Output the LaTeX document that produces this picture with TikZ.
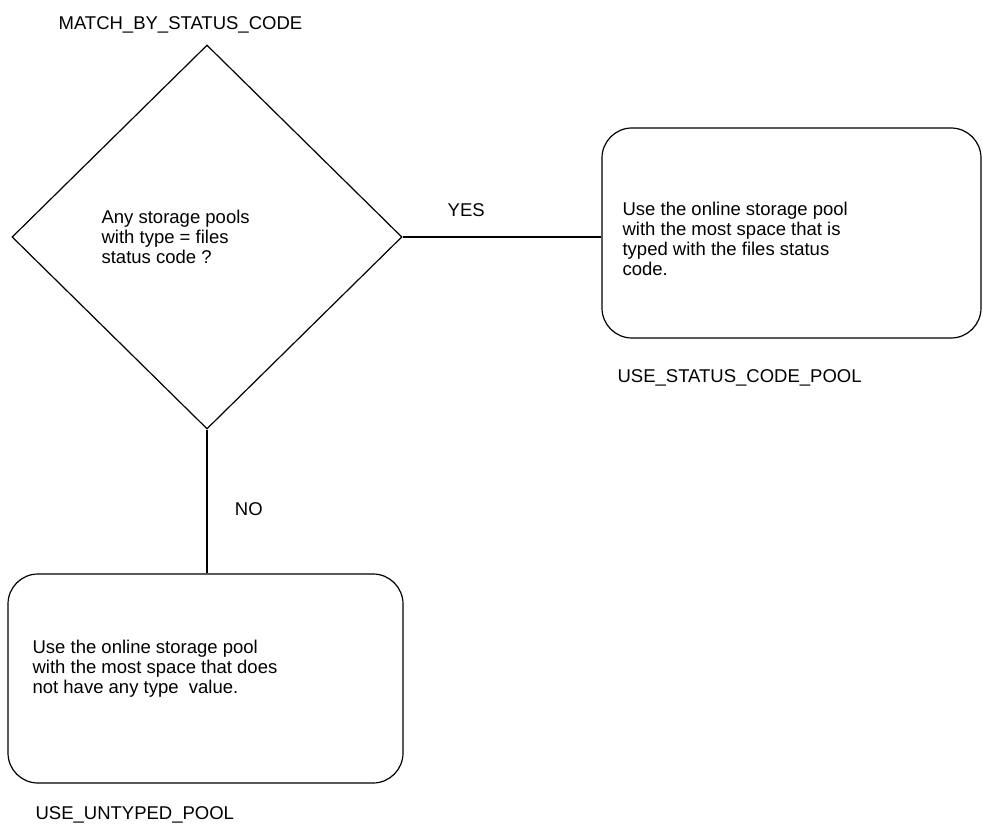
\documentclass[tikz,border=0pt]{standalone}
\usepackage{fontspec}
\setmainfont{Liberation Sans}
\usetikzlibrary{shapes.geometric}
\begin{document}
\begin{tikzpicture}[x=1pt,y=-1pt,line width=1.2pt,font=\fontsize{18.5}{20}\selectfont,
  decision/.style={diamond,draw,inner sep=0pt,minimum width=390pt,minimum height=384pt},
  poolbox/.style={rectangle,draw,rounded corners=30pt,inner sep=0pt},
  txt/.style={anchor=west,align=left,inner sep=0pt},
  tag/.style={anchor=west,inner sep=0pt}]
  \useasboundingbox (0,0) rectangle (983,829);
  \node[decision] (match) at (207,237) {};
  \node[poolbox,minimum width=379pt,minimum height=210pt] (statuspool) at (791.5,233) {};
  \node[poolbox,minimum width=395pt,minimum height=209pt] (untyped) at (205.5,678.5) {};
  % texts
  \node[txt] (matchtxt) at (101,237) {Any storage pools\\with type = files\\status code ?};
  \node[txt] (statustxt) at (622,239) {Use the online storage pool\\with the most space that is\\typed with the files status\\code.};
  \node[txt] (untypedtxt) at (32,669) {Use the online storage pool\\with the most space that does\\not have any type\ \ value.};
  \node[tag] (matchtag) at (58,25) {MATCH\_BY\_STATUS\_CODE};
  \node[tag] (statustag) at (617,378) {USE\_STATUS\_CODE\_POOL};
  \node[tag] (untypedtag) at (35,815) {USE\_UNTYPED\_POOL};
  % connectors
  \draw (match.east) -- node[pos=0.32,above=16pt] {YES} (match.east -| statuspool.west);
  \draw (match.south) -- node[pos=0.55,right=24pt] {NO} (match.south |- untyped.north);
\end{tikzpicture}
\end{document}
